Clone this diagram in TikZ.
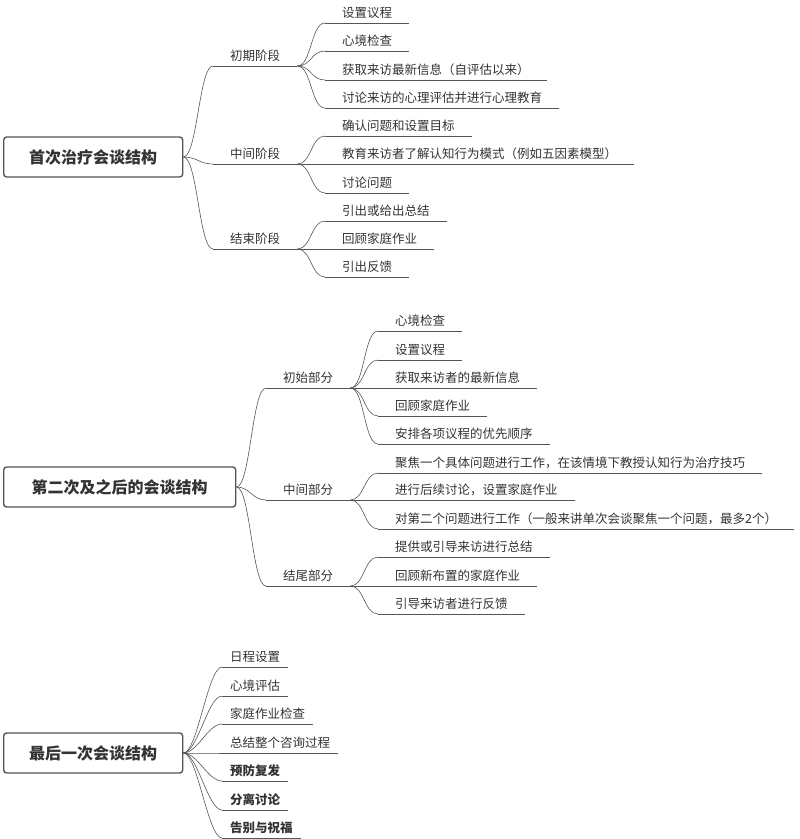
\documentclass[tikz,border=0pt]{standalone}
\usepackage{fontspec}
\setmainfont{Noto Sans CJK SC}
\usetikzlibrary{positioning,calc}
\definecolor{ink}{HTML}{333333}
\definecolor{wire}{HTML}{555555}

\tikzset{
  rootbox/.style={draw=wire, line width=1.4pt, rounded corners=3pt, minimum height=40pt,
    font=\fontsize{16}{18}\selectfont\bfseries, text=ink, anchor=west},
  line/.style={inner xsep=17pt, inner ysep=4pt, anchor=south west, text=ink,
    font=\fontsize{12.5}{14}\selectfont},
  bline/.style={line, font=\fontsize{12.5}{14}\selectfont\bfseries},
  branch/.style={draw=wire, line width=0.6pt}
}
\newcommand{\mapbranch}[2]{\draw[branch] (#1) .. controls +(14,0) and +(-14,0) .. (#2);}

\begin{document}
\begin{tikzpicture}[x=1pt, y=-1pt]
    \useasboundingbox (0,0) rectangle (800,839);

    % First session
    \node[rootbox, minimum width=179pt] (r1) at (3,157) {首次治疗会谈结构};
    \node[line] (m1) at (213,66) {初期阶段};
    \node[line] (m2) at (213,164) {中间阶段};
    \node[line] (m3) at (213,249) {结束阶段};
    \node[line] (a1) at (325,23) {设置议程};
    \node[line] (a2) at (325,51) {心境检查};
    \node[line] (a3) at (325,80) {获取来访最新信息（自评估以来）};
    \node[line] (a4) at (325,108) {讨论来访的心理评估并进行心理教育};
    \node[line] (b1) at (325,136) {确认问题和设置目标};
    \node[line] (b2) at (325,164) {教育来访者了解认知行为模式（例如五因素模型）};
    \node[line] (b3) at (325,193) {讨论问题};
    \node[line] (c1) at (325,221) {引出或给出总结};
    \node[line] (c2) at (325,249) {回顾家庭作业};
    \node[line] (c3) at (325,277) {引出反馈};
    \foreach \m in {m1,m2,m3} {\mapbranch{r1.east}{\m.south west}}
    \foreach \l in {a1,a2,a3,a4} {\mapbranch{m1.south east}{\l.south west}}
    \foreach \l in {b1,b2,b3} {\mapbranch{m2.south east}{\l.south west}}
    \foreach \l in {c1,c2,c3} {\mapbranch{m3.south east}{\l.south west}}

    % Later sessions
    \node[rootbox, minimum width=232pt] (r2) at (3,487) {第二次及之后的会谈结构};
    \node[line] (n1) at (266,388) {初始部分};
    \node[line] (n2) at (266,500) {中间部分};
    \node[line] (n3) at (266,586) {结尾部分};
    \node[line] (d1) at (378,331) {心境检查};
    \node[line] (d2) at (378,360) {设置议程};
    \node[line] (d3) at (378,388) {获取来访者的最新信息};
    \node[line] (d4) at (378,416) {回顾家庭作业};
    \node[line] (d5) at (378,444) {安排各项议程的优先顺序};
    \node[line] (e1) at (378,473) {聚焦一个具体问题进行工作，在该情境下教授认知行为治疗技巧};
    \node[line] (e2) at (378,500) {进行后续讨论，设置家庭作业};
    \node[line] (e3) at (378,529) {对第二个问题进行工作（一般来讲单次会谈聚焦一个问题，最多2个）};
    \node[line] (f1) at (378,557) {提供或引导来访进行总结};
    \node[line] (f2) at (378,586) {回顾新布置的家庭作业};
    \node[line] (f3) at (378,614) {引导来访者进行反馈};
    \foreach \m in {n1,n2,n3} {\mapbranch{r2.east}{\m.south west}}
    \foreach \l in {d1,d2,d3,d4,d5} {\mapbranch{n1.south east}{\l.south west}}
    \foreach \l in {e1,e2,e3} {\mapbranch{n2.south east}{\l.south west}}
    \foreach \l in {f1,f2,f3} {\mapbranch{n3.south east}{\l.south west}}

    % Last session
    \node[rootbox, minimum width=179pt] (r3) at (3,753) {最后一次会谈结构};
    \node[line, inner xsep=8pt] (g1) at (222,667) {日程设置};
    \node[line, inner xsep=8pt] (g2) at (222,696) {心境评估};
    \node[line, inner xsep=8pt] (g3) at (222,724) {家庭作业检查};
    \node[line, inner xsep=8pt] (g4) at (222,753) {总结整个咨询过程};
    \node[bline, inner xsep=8pt] (g5) at (222,781) {预防复发};
    \node[bline, inner xsep=8pt] (g6) at (222,810) {分离讨论};
    \node[bline, inner xsep=8pt] (g7) at (222,838) {告别与祝福};
    \foreach \l in {g1,g2,g3,g4,g5,g6,g7} {\mapbranch{r3.east}{\l.south west}}

    % underlines
    \foreach \u in {m1,m2,m3,a1,a2,a3,a4,b1,b2,b3,c1,c2,c3,
                    n1,n2,n3,d1,d2,d3,d4,d5,e1,e2,e3,f1,f2,f3,
                    g1,g2,g3,g4,g5,g6,g7}
      {\draw[branch] (\u.south west) -- (\u.south east);}
\end{tikzpicture}
\end{document}
